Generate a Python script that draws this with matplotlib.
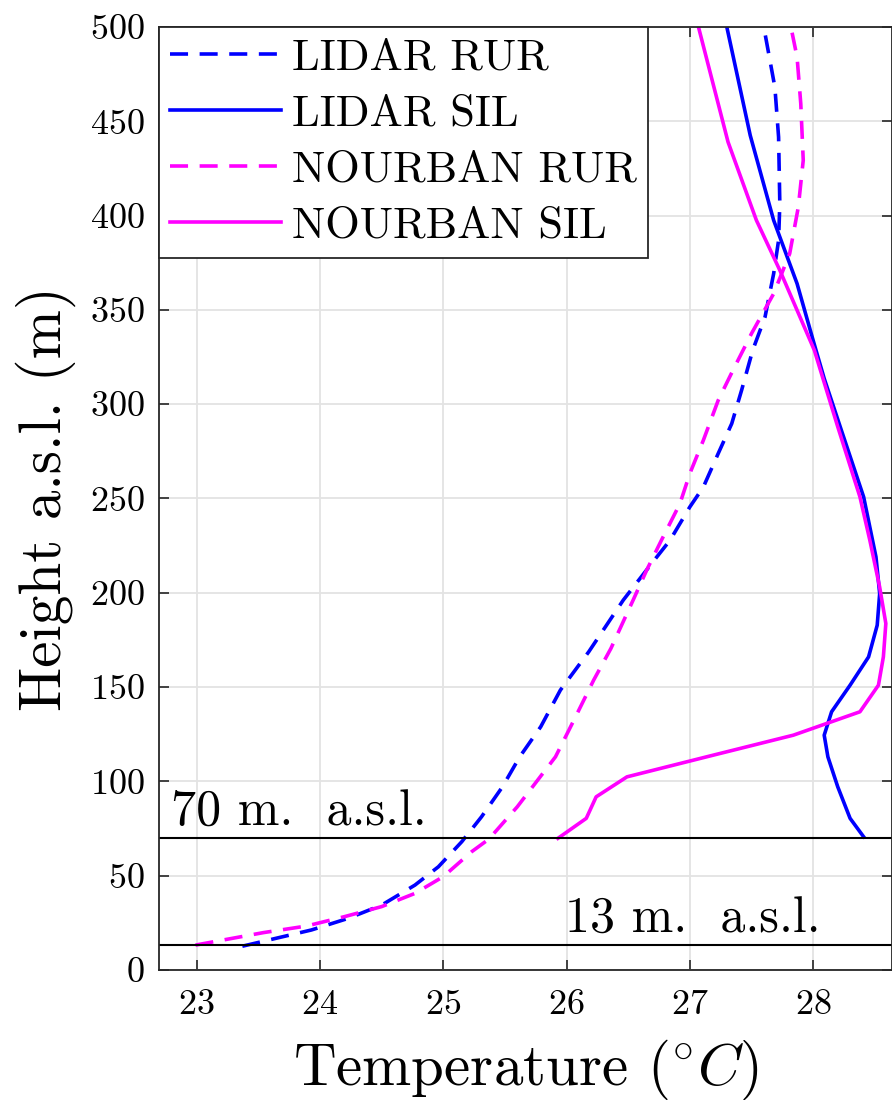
import numpy as np
import matplotlib
matplotlib.use('Agg')
import matplotlib.pyplot as plt

plt.rcParams['font.family'] = 'serif'
plt.rcParams['font.serif'] = ['cmr10']
plt.rcParams['mathtext.fontset'] = 'cm'
plt.rcParams['axes.formatter.use_mathtext'] = True

# LIDAR RUR (blue dashed)
lidar_rur_h = [12.6, 21.2, 27.4, 34.4, 45.0, 54.7, 68, 81.2, 97.1, 113, 128.9, 148.4, 168.7,
               196.1, 215.5, 227.9, 245.5, 256.1, 273.8, 289.7, 307.4, 328.6, 346.2, 369.2,
               386.9, 406.3, 441.6, 468, 500]
lidar_rur_t = [23.37, 23.93, 24.23, 24.50, 24.77, 24.96, 25.15, 25.31, 25.48, 25.62, 25.79, 25.95, 26.18,
               26.46, 26.69, 26.84, 27.00, 27.11, 27.23, 27.34, 27.42, 27.51, 27.61, 27.68,
               27.72, 27.73, 27.72, 27.69, 27.60]

# LIDAR SIL (blue solid)
lidar_sil_h = [70.6, 80.4, 97.1, 113, 124.5, 136.9, 151, 166, 182.8, 199.6, 219, 250.8, 288,
               313.6, 333.9, 363.9, 397.5, 442.5, 500]
lidar_sil_t = [28.41, 28.30, 28.20, 28.12, 28.09, 28.15, 28.30, 28.45, 28.52, 28.54, 28.51, 28.41, 28.22,
               28.09, 28.00, 27.87, 27.68, 27.49, 27.30]

# NOURBAN RUR (magenta dashed)
nourban_rur_h = [13.2, 19.8, 23.3, 28.3, 33.6, 40.6, 49.5, 62.7, 69.4, 86.5, 113, 132.5, 153.7,
                 170.5, 196.1, 212, 227.9, 247.3, 263.2, 280.9, 302, 318, 337.4, 358.6, 379.8,
                 404.5, 429.3, 459.3, 484, 500]
nourban_rur_t = [22.99, 23.54, 23.89, 24.20, 24.50, 24.77, 25.00, 25.23, 25.37, 25.60, 25.91, 26.06, 26.22,
                 26.36, 26.54, 26.65, 26.77, 26.92, 27.00, 27.11, 27.23, 27.35, 27.50, 27.68, 27.81,
                 27.88, 27.92, 27.90, 27.87, 27.82]

# NOURBAN SIL (magenta solid)
nourban_sil_h = [69.8, 80.4, 91.8, 102.4, 113.9, 124.5, 136.9, 151, 166, 183.7, 203, 227.9, 250.8,
                 288, 313.6, 328.6, 371, 397.5, 439, 500]
nourban_sil_t = [25.93, 26.16, 26.24, 26.49, 27.19, 27.84, 28.38, 28.53, 28.57, 28.59, 28.54, 28.46, 28.38,
                 28.20, 28.08, 28.01, 27.73, 27.54, 27.31, 27.07]

ref_heights = [70, 13]
ref_labels = ['70 m.  a.s.l.', '13 m.  a.s.l.']
ref_label_x = [22.79, 25.99]

blue = '#0000FF'
magenta = '#FF00FF'
lw = 2.6
dash = (5, 3.2)

fig = plt.figure(figsize=(8.92, 11), dpi=100)
ax = fig.add_axes([0.1777, 0.1182, 0.8223, 0.8573])

ax.plot(lidar_rur_t, lidar_rur_h, color=blue, lw=lw, dashes=dash, label='LIDAR RUR')
ax.plot(lidar_sil_t, lidar_sil_h, color=blue, lw=lw, label='LIDAR SIL')
ax.plot(nourban_rur_t, nourban_rur_h, color=magenta, lw=lw, dashes=dash, label='NOURBAN RUR')
ax.plot(nourban_sil_t, nourban_sil_h, color=magenta, lw=lw, label='NOURBAN SIL')

for h, lab, xt in zip(ref_heights, ref_labels, ref_label_x):
    ax.axhline(h, color='black', lw=1.5)
    ax.text(xt, h + 1.2, lab, fontsize=36, va='bottom', ha='left')

ax.set_xlim(22.69, 28.64)
ax.set_ylim(0, 500)
ax.set_xticks(np.arange(23, 29, 1))
ax.set_yticks(np.arange(0, 501, 50))
ax.grid(True, color='#e3e3e3', lw=1.3)
ax.set_axisbelow(True)
ax.tick_params(direction='in', top=True, right=True, labelsize=26, length=7,
               width=1.2, color='#262626')
ax.tick_params(axis='x', pad=14)
ax.tick_params(axis='y', pad=10)
for s in ax.spines.values():
    s.set_color('#262626')
    s.set_linewidth(1.3)

ax.set_xlabel(r'Temperature $(^{\circ}C)$', fontsize=42.5, labelpad=12)
ax.set_ylabel('Height a.s.l. (m)', fontsize=42.5, labelpad=10)

leg = ax.legend(loc='upper left', fontsize=32, borderaxespad=0, handlelength=2.5,
                handletextpad=0.25, labelspacing=0.36, fancybox=False, framealpha=1,
                borderpad=0.25)
leg.get_frame().set_edgecolor('#262626')
leg.get_frame().set_linewidth(1.3)

plt.savefig('out.png', dpi=100)
